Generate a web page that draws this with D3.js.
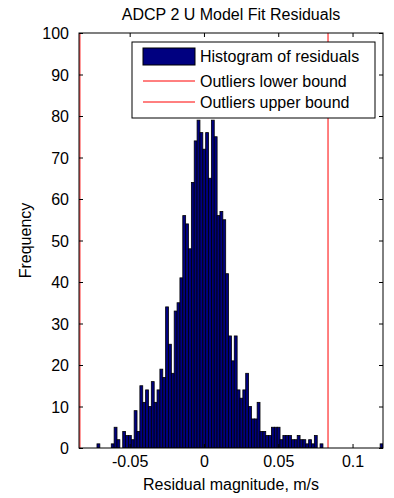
<!DOCTYPE html>
<html>
<head>
<meta charset="utf-8">
<script src="https://cdn.jsdelivr.net/npm/d3@7"></script>
<style>
  html, body { margin: 0; padding: 0; background: #ffffff; }
  svg { display: block; }
  text { font-family: "Liberation Sans", Arial, Helvetica, sans-serif; fill: #000; }
</style>
</head>
<body>
<svg id="chart" width="394" height="498"></svg>
<script>
// ---- data ----
const titleText = "ADCP 2 U Model Fit Residuals";
const xLabelText = "Residual magnitude, m/s";
const yLabelText = "Frequency";
const legendLabels = ["Histogram of residuals", "Outliers lower bound", "Outliers upper bound"];
const xTicks = [-0.05, 0, 0.05, 0.1];
const xTickLabels = ["-0.05", "0", "0.05", "0.1"];
const yTicks = [0, 10, 20, 30, 40, 50, 60, 70, 80, 90, 100];
const xDomain = [-0.0841, 0.1205];
const yDomain = [0, 100];
const binStart = -0.0720;
const binWidth = 0.001925;
const counts = [
  1, 0, 0, 0, 0, 1, 5, 2, 0, 4,
  3, 3, 2, 9, 4, 15, 11, 14, 10, 16,
  11, 14, 19, 17, 34, 25, 18, 33, 35, 41,
  56, 54, 48, 64, 74, 79, 76, 72, 76, 65,
  79, 75, 56, 57, 55, 42, 27, 21, 27, 14,
  12, 14, 18, 10, 7, 7, 11, 4, 4, 3,
  3, 5, 5, 5, 2, 3, 3, 3, 2, 2,
  3, 2, 2, 1, 2, 1, 3, 0, 1, 0,
  0, 0, 0, 0, 0, 0, 0, 0, 0, 0,
  0, 0, 0, 0, 0, 0, 0, 0, 0, 1
];
const lowerBound = -0.0835;
const upperBound = 0.0835;

// ---- layout ----
const plot = { left: 79, right: 383, top: 33, bottom: 448 };
const svg = d3.select("#chart");
const x = d3.scaleLinear().domain(xDomain).range([plot.left, plot.right]);
const y = d3.scaleLinear().domain(yDomain).range([plot.bottom, plot.top]);

svg.append("defs").append("clipPath").attr("id", "clip")
  .append("rect").attr("x", plot.left).attr("y", plot.top)
  .attr("width", plot.right - plot.left).attr("height", plot.bottom - plot.top);

// bars
const bars = counts.map((c, i) => ({ x0: binStart + i * binWidth, x1: binStart + (i + 1) * binWidth, c }));
svg.append("g").attr("clip-path", "url(#clip)")
  .selectAll("rect").data(bars.filter(d => d.c > 0)).join("rect")
  .attr("x", d => x(d.x0))
  .attr("width", d => x(d.x1) - x(d.x0))
  .attr("y", d => y(d.c))
  .attr("height", d => y(0) - y(d.c))
  .attr("fill", "#000080")
  .attr("stroke", "#000")
  .attr("stroke-width", 0.8);

// outlier lines
svg.append("g").attr("clip-path", "url(#clip)")
  .selectAll("line").data([lowerBound, upperBound]).join("line")
  .attr("x1", d => x(d)).attr("x2", d => x(d))
  .attr("y1", y(0)).attr("y2", y(100))
  .attr("stroke", "#ff0000").attr("stroke-width", 1);

// axes (MATLAB style, inward ticks)
const tickLen = 4;
const fontSize = 16;
const axB = d3.axisBottom(x).tickValues(xTicks).tickSizeInner(-tickLen).tickSizeOuter(0)
  .tickFormat((d, i) => xTickLabels[i]).tickPadding(8);
const gB = svg.append("g").attr("transform", `translate(0,${plot.bottom})`).call(axB);
const axT = d3.axisTop(x).tickValues(xTicks).tickSizeInner(-tickLen).tickSizeOuter(0).tickFormat("");
const gT = svg.append("g").attr("transform", `translate(0,${plot.top})`).call(axT);
const axL = d3.axisLeft(y).tickValues(yTicks).tickSizeInner(-tickLen).tickSizeOuter(0).tickPadding(10);
const gL = svg.append("g").attr("transform", `translate(${plot.left},0)`).call(axL);
const axR = d3.axisRight(y).tickValues(yTicks).tickSizeInner(-tickLen).tickSizeOuter(0).tickFormat("");
const gR = svg.append("g").attr("transform", `translate(${plot.right},0)`).call(axR);
[gB, gT, gL, gR].forEach(g => {
  g.select(".domain").remove();
  g.selectAll("line").attr("stroke", "#000").attr("stroke-width", 1);
  g.selectAll("text").attr("font-size", fontSize).attr("font-family", "Liberation Sans, Arial, sans-serif").attr("fill", "#000");
});
gL.selectAll("text").attr("dy", "0.36em");

// box
svg.append("rect").attr("x", plot.left).attr("y", plot.top)
  .attr("width", plot.right - plot.left).attr("height", plot.bottom - plot.top)
  .attr("fill", "none").attr("stroke", "#000").attr("stroke-width", 1);

// title & labels
svg.append("text").attr("x", (plot.left + plot.right) / 2).attr("y", 20)
  .attr("text-anchor", "middle").attr("font-size", fontSize).text(titleText);
svg.append("text").attr("x", (plot.left + plot.right) / 2).attr("y", 490)
  .attr("text-anchor", "middle").attr("font-size", fontSize).text(xLabelText);
svg.append("text").attr("transform", `translate(31,${(plot.top + plot.bottom) / 2}) rotate(-90)`)
  .attr("text-anchor", "middle").attr("font-size", fontSize).text(yLabelText);

// legend
const lg = { x: 132, y: 42, w: 243, h: 76 };
const leg = svg.append("g");
leg.append("rect").attr("x", lg.x).attr("y", lg.y).attr("width", lg.w).attr("height", lg.h)
  .attr("fill", "#fff").attr("stroke", "#000").attr("stroke-width", 1);
const rowY = [56, 81, 102];
leg.append("rect").attr("x", 143).attr("y", rowY[0] - 8).attr("width", 52).attr("height", 17)
  .attr("fill", "#000080").attr("stroke", "#000").attr("stroke-width", 1);
leg.selectAll("line.l").data([1, 2]).join("line")
  .attr("x1", 143).attr("x2", 195)
  .attr("y1", i => rowY[i]).attr("y2", i => rowY[i])
  .attr("stroke", "#ff0000").attr("stroke-width", 1);
leg.selectAll("text").data(legendLabels).join("text")
  .attr("x", 200).attr("y", (d, i) => rowY[i]).attr("dy", "0.36em")
  .attr("font-size", fontSize).text(d => d);
</script>
</body>
</html>
